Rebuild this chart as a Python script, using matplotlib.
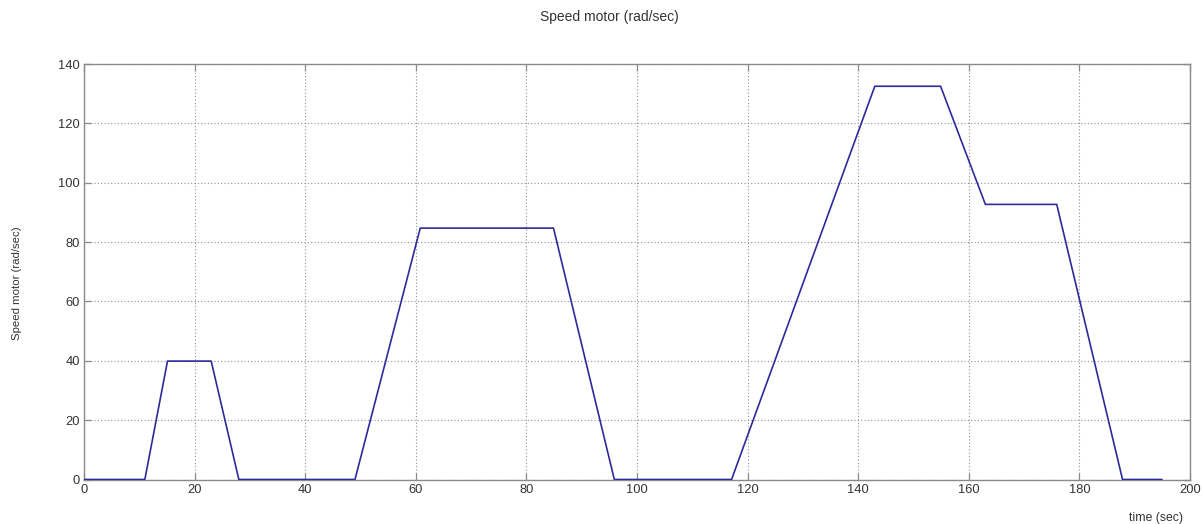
import matplotlib
matplotlib.use("Agg")
import matplotlib.pyplot as plt

# Motor speed profile (time in seconds, speed in rad/sec)
time_s = [0, 11.0, 15.1, 23.0, 28.0, 49.0, 60.8, 84.9, 95.9, 117.1,
          143.0, 154.9, 163.0, 175.9, 187.8, 194.9]
speed = [0, 0, 39.9, 39.9, 0, 0, 84.7, 84.7, 0, 0,
         132.5, 132.5, 92.7, 92.7, 0, 0]

x_ticks = [0, 20, 40, 60, 80, 100, 120, 140, 160, 180, 200]
y_ticks = [0, 20, 40, 60, 80, 100, 120, 140]

plt.rcParams["font.family"] = ["Liberation Sans", "DejaVu Sans"]

W, H = 1202, 524
fig = plt.figure(figsize=(W / 100, H / 100), dpi=100)
ax = fig.add_axes([84 / W, 1 - 479.5 / H, (1190 - 84) / W, (479.5 - 64) / H])

ax.plot(time_s, speed, color="#2b2b9c", linewidth=1.2, zorder=3)

ax.set_xlim(0, 200)
ax.set_ylim(0, 140)
ax.set_xticks(x_ticks)
ax.set_yticks(y_ticks)

ax.grid(True, color="#909090", linestyle=(0, (1, 2)), linewidth=0.8)
for sp in ax.spines.values():
    sp.set_color("#8a8a8a")
    sp.set_linewidth(1.0)
ax.tick_params(direction="in", length=5, width=0.9, color="#8a8a8a",
               labelsize=9.3, labelcolor="#333333", top=True, right=True,
               pad=3)

fig.text(609 / W, 1 - 17 / H, "Speed motor (rad/sec)", ha="center",
         va="center", fontsize=10, color="#333333")
fig.text(1156 / W, 1 - 518 / H, "time (sec)", ha="center", va="center",
         fontsize=8.8, color="#333333")
fig.text(17 / W, 1 - 283 / H, "Speed motor (rad/sec)", ha="center",
         va="center", rotation=90, fontsize=8.2, color="#333333")

fig.savefig("out.png", dpi=100, facecolor="white")
